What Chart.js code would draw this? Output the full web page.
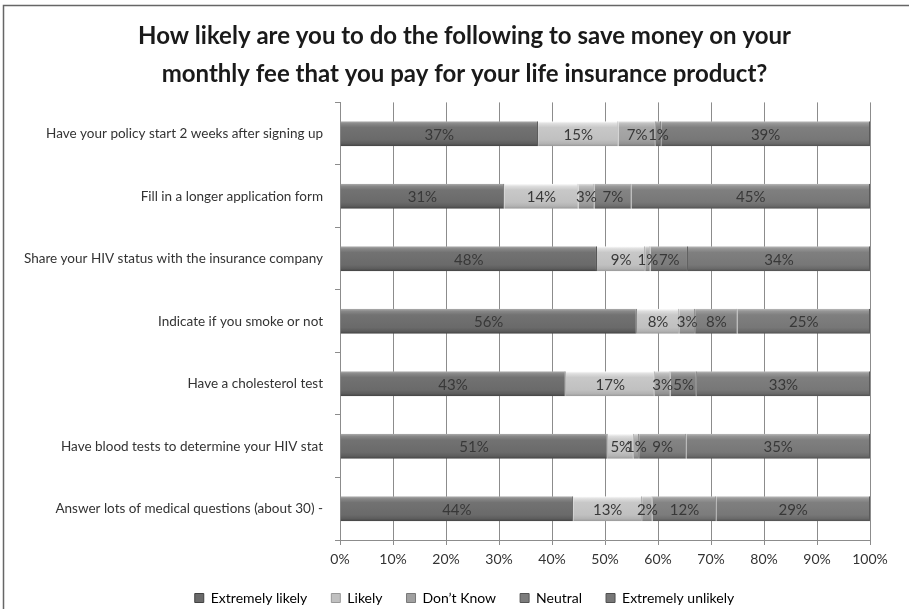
<!DOCTYPE html>
<html>
<head>
<meta charset="utf-8">
<script src="https://cdn.jsdelivr.net/npm/chart.js@4.4.1/dist/chart.umd.min.js"></script>
<style>
  html, body { margin: 0; padding: 0; background: #fff; }
  #wrap { position: relative; width: 909px; height: 609px; }
</style>
</head>
<body>
<div id="wrap"><canvas id="myChart1"></canvas></div>
<script>
//------------------ データ ------------------//
// 質問項目
const CATEGORIES = [
    'Have your policy start 2 weeks after signing up',
    'Fill in a longer application form',
    'Share your HIV status with the insurance company',
    'Indicate if you smoke or not',
    'Have a cholesterol test',
    'Have blood tests to determine your HIV stat',
    'Answer lots of medical questions (about 30) -'
]
// 回答ラベル
const SERIES_NAMES = ['Extremely likely', 'Likely', 'Don\u2019t Know', 'Neutral', 'Extremely unlikely']
// 回答の割合 (%)
const EXTREMELY_LIKELY   = [37, 31, 48, 56, 43, 51, 44]
const LIKELY             = [15, 14,  9,  8, 17,  5, 13]
const DONT_KNOW          = [ 7,  3,  1,  3,  3,  1,  2]
const NEUTRAL            = [ 1,  7,  7,  8,  5,  9, 12]
const EXTREMELY_UNLIKELY = [39, 45, 34, 25, 33, 35, 29]
// 横軸目盛
const X_TICKS = [0, 10, 20, 30, 40, 50, 60, 70, 80, 90, 100]

const SERIES_VALUES = [EXTREMELY_LIKELY, LIKELY, DONT_KNOW, NEUTRAL, EXTREMELY_UNLIKELY]
const SERIES_COLORS = ['#6a6a6a', '#c0c0c0', '#a0a0a0', '#7c7c7c', '#777777']

const FONT = '"Liberation Sans Narrow", Lato, "Open Sans", sans-serif'
const BODY_FONT = 'Lato, "Open Sans", sans-serif'
const TEXT_COLOR = '#333'
const GRID_COLOR = '#8c8c8c'
//-------------------------------------------//

// 行ごとの合計 (100%積み上げ用)
const rowTotals = CATEGORIES.map((c, i) => SERIES_VALUES.reduce((s, arr) => s + arr[i], 0))

function shade(hex, amt){
    const n = parseInt(hex.slice(1), 16)
    const clamp = v => Math.max(0, Math.min(255, v))
    const r = clamp((n >> 16) + amt), g = clamp(((n >> 8) & 255) + amt), b = clamp((n & 255) + amt)
    return 'rgb(' + r + ',' + g + ',' + b + ')'
}

// ベベル風の縦グラデーション
function bevelFill(base){
    return function(context){
        const chart = context.chart
        const yScale = chart.scales.y
        if (!chart.chartArea || !yScale || context.dataIndex === undefined) return base
        const cy = yScale.getPixelForValue(context.dataIndex)
        const half = (yScale.height / CATEGORIES.length) * 0.4 / 2
        const g = chart.ctx.createLinearGradient(0, cy - half, 0, cy + half)
        g.addColorStop(0, shade(base, 70))
        g.addColorStop(0.1, shade(base, 30))
        g.addColorStop(0.25, shade(base, 8))
        g.addColorStop(0.75, base)
        g.addColorStop(0.9, shade(base, -14))
        g.addColorStop(1, shade(base, -40))
        return g
    }
}

const datasets = SERIES_NAMES.map((name, k) => ({
    label: name,
    data: SERIES_VALUES[k].map((v, i) => v / rowTotals[i] * 100),
    raw: SERIES_VALUES[k],
    baseColor: SERIES_COLORS[k],
    backgroundColor: bevelFill(SERIES_COLORS[k]),
    borderColor: shade(SERIES_COLORS[k], -30),
    borderWidth: {top: 0, bottom: 0, left: 0, right: 1},
    borderSkipped: false,
    barPercentage: 0.5,
    categoryPercentage: 0.8
}))

// バー中央に値を表示する
const valueLabels = {
    id: 'valueLabels',
    afterDatasetsDraw(chart){
        const ctx = chart.ctx
        ctx.save()
        ctx.font = '15px ' + BODY_FONT
        ctx.fillStyle = '#383838'
        ctx.textAlign = 'center'
        ctx.textBaseline = 'middle'
        chart.data.datasets.forEach((ds, k) => {
            chart.getDatasetMeta(k).data.forEach((bar, i) => {
                const p = bar.getCenterPoint()
                ctx.fillText(ds.raw[i] + '%', p.x, p.y + 1)
            })
        })
        ctx.restore()
    }
}

// 外枠
const frame = {
    id: 'frame',
    beforeDraw(chart){
        const ctx = chart.ctx
        ctx.save()
        ctx.fillStyle = '#fff'
        ctx.fillRect(0, 0, chart.width, chart.height)
        ctx.strokeStyle = '#666'
        ctx.lineWidth = 1.5
        ctx.beginPath()
        ctx.moveTo(3.5, chart.height + 2)
        ctx.lineTo(3.5, 5.5)
        ctx.lineTo(chart.width + 2, 5.5)
        ctx.stroke()
        ctx.restore()
    }
}

var ctx = document.getElementById('myChart1')
window.myChart = new Chart(ctx, {
    type: 'bar',
    data: {
        labels: CATEGORIES,
        datasets: datasets
    },
    options: {
        indexAxis: 'y',
        responsive: true,
        maintainAspectRatio: false,
        animation: false,
        layout: {padding: {left: 20, right: 0, top: 0, bottom: -6}},
        scales: {
            x: {
                stacked: true,
                min: 0,
                max: 100,
                afterBuildTicks: (scale) => { scale.ticks = X_TICKS.map(v => ({value: v})) },
                ticks: {
                    callback: (v) => v + '%',
                    color: TEXT_COLOR,
                    font: {family: BODY_FONT, size: 14},
                    padding: 6,
                    maxRotation: 0
                },
                grid: {color: GRID_COLOR, tickLength: 5, tickColor: GRID_COLOR},
                border: {color: GRID_COLOR},
                afterFit: (scale) => { scale.paddingRight = 39; scale.height = 27 }
            },
            y: {
                stacked: true,
                ticks: {
                    color: TEXT_COLOR,
                    font: {family: BODY_FONT, size: 13.5},
                    padding: 12
                },
                grid: {drawOnChartArea: false, tickLength: 5, color: GRID_COLOR, offset: true},
                border: {color: GRID_COLOR},
                afterFit: (scale) => { scale.width = 320 }
            }
        },
        plugins: {
            title: {
                display: true,
                text: ['How likely are you to do the following to save money on your',
                       'monthly fee that you pay for your life insurance product?'],
                color: '#1a1a1a',
                font: {family: FONT, size: 24, weight: 'bold', lineHeight: 1.55},
                padding: {top: 18, bottom: 10}
            },
            legend: {
                position: 'bottom',
                labels: {
                    color: TEXT_COLOR,
                    font: {family: BODY_FONT, size: 14},
                    boxWidth: 9,
                    boxHeight: 9,
                    padding: 24,
                    generateLabels: (chart) => chart.data.datasets.map((ds, k) => ({
                        text: ds.label,
                        fillStyle: ds.baseColor,
                        strokeStyle: shade(ds.baseColor, -40),
                        lineWidth: 1,
                        datasetIndex: k
                    }))
                }
            },
            tooltip: {enabled: false}
        }
    },
    plugins: [frame, valueLabels]
})
</script>
</body>
</html>
